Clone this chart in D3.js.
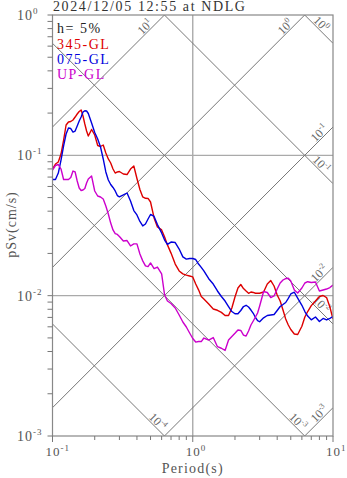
<!DOCTYPE html>
<html><head><meta charset="utf-8">
<script src="https://cdn.jsdelivr.net/npm/d3@7"></script>
<style>
html,body{margin:0;padding:0;background:#fff;}
svg{display:block;font-family:"Liberation Serif","Times New Roman",serif;}
</style></head><body>
<svg id="chart" width="347" height="478"></svg>
<script>
// Pseudo-velocity response spectra, 5% damping
const periods = [0.100,0.105,0.110,0.115,0.120,0.125,0.130,0.135,0.140,0.145,0.150,0.155,0.160,0.165,0.170,0.175,0.180,0.19,0.20,0.21,0.22,0.23,0.24,0.25,0.26,0.27,0.28,0.29,0.30,0.32,0.34,0.36,0.38,0.40,0.42,0.44,0.46,0.48,0.50,0.53,0.56,0.60,0.63,0.66,0.70,0.75,0.80,0.85,0.90,0.95,1.00,1.05,1.10,1.15,1.20,1.30,1.40,1.50,1.60,1.70,1.80,1.90,2.00,2.10,2.20,2.30,2.40,2.50,2.60,2.70,2.80,2.90,3.00,3.20,3.40,3.60,3.80,4.00,4.20,4.40,4.60,4.80,5.00,5.30,5.60,6.00,6.30,6.60,7.00,7.50,8.00,8.50,9.00,9.50,10.0];

const sv345 = [0.0799,0.0867,0.0896,0.1022,0.1286,0.1645,0.1728,0.1743,0.1786,0.1875,0.1970,0.2053,0.2104,0.1906,0.1672,0.1490,0.1373,0.1528,0.1396,0.1175,0.1156,0.1185,0.1039,0.0942,0.0882,0.0799,0.0748,0.0761,0.0767,0.0736,0.0730,0.0799,0.0839,0.0684,0.0571,0.0505,0.0494,0.0493,0.0465,0.0358,0.0309,0.0294,0.0262,0.0230,0.0201,0.0168,0.0150,0.0143,0.0140,0.0138,0.0136,0.0121,0.0110,0.00986,0.00947,0.00872,0.00804,0.00787,0.00760,0.00722,0.00722,0.00817,0.00978,0.01134,0.01201,0.01124,0.01079,0.01040,0.01062,0.01054,0.01040,0.01040,0.01040,0.01062,0.01211,0.01282,0.01172,0.01011,0.00916,0.00790,0.00682,0.00618,0.00574,0.00533,0.00529,0.00605,0.00705,0.00771,0.00849,0.00916,0.00986,0.01003,0.00970,0.00830,0.00682];

const sv075 = [0.0673,0.0673,0.0748,0.0926,0.1166,0.1419,0.1566,0.1553,0.1466,0.1490,0.1618,0.1757,0.1875,0.2036,0.2080,0.2070,0.1986,0.1700,0.1454,0.1307,0.1147,0.0942,0.0761,0.0667,0.0620,0.0590,0.0557,0.0517,0.0506,0.0522,0.0539,0.0473,0.0404,0.0376,0.0338,0.0314,0.0324,0.0352,0.0379,0.0367,0.0321,0.0280,0.0249,0.0232,0.0241,0.0239,0.0215,0.0189,0.0182,0.0184,0.0184,0.0181,0.0168,0.0159,0.0150,0.0132,0.0121,0.0108,0.00986,0.00916,0.00837,0.00771,0.00743,0.00743,0.00784,0.00837,0.00854,0.00830,0.00790,0.00749,0.00699,0.00665,0.00652,0.00695,0.00722,0.00728,0.00734,0.00784,0.00837,0.00865,0.00894,0.00958,0.01028,0.01058,0.00962,0.00854,0.00771,0.00716,0.00673,0.00705,0.00655,0.00688,0.00671,0.00690,0.00710];

const svUP = [0.0786,0.0846,0.0860,0.0799,0.0673,0.0673,0.0673,0.0695,0.0773,0.0761,0.0656,0.0585,0.0562,0.0566,0.0580,0.0635,0.0678,0.0712,0.0557,0.0513,0.0505,0.0488,0.0435,0.0382,0.0329,0.0294,0.0277,0.0273,0.0264,0.0245,0.0247,0.0226,0.0234,0.0234,0.0198,0.0177,0.0163,0.0161,0.0171,0.0156,0.0160,0.0143,0.0101,0.00916,0.00879,0.00817,0.00728,0.00649,0.00598,0.00542,0.00495,0.00467,0.00471,0.00471,0.00499,0.00483,0.00503,0.00433,0.00422,0.00407,0.00483,0.00512,0.00539,0.00569,0.00565,0.00524,0.00516,0.00560,0.00618,0.00660,0.00705,0.00752,0.00844,0.01070,0.01053,0.00970,0.00995,0.01115,0.01231,0.01293,0.01325,0.01330,0.01272,0.01097,0.01045,0.01134,0.01231,0.01257,0.01241,0.01251,0.01079,0.01097,0.01115,0.01143,0.01191];

const seriesNames = ["345-GL", "075-GL", "UP-GL"];
const seriesColors = ["#dd0000", "#0000dd", "#cc00cc"];
const dispLevels = [1e-4, 1e-3, 1e-2, 1e-1, 1];   // displacement, cm
const accLevels = [1e-3, 1e-2, 1e-1, 1, 10];     // acceleration, cm/s^2
const xTickExps = [-1, 0, 1];
const yTickExps = [0, -1, -2, -3];
const titleText = "2024/12/05 12:55 at NDLG";
const dampingText = "h= 5%";
const xLabel = "Period(s)";
const yLabel = "pSv(cm/s)";

const L = 52.5, R = 333, TOP = 15, BOT = 436;
const svg = d3.select("#chart");
const x = d3.scaleLog().domain([0.1, 10]).range([L, R]);
const y = d3.scaleLog().domain([0.001, 1]).range([BOT, TOP]);

svg.append("defs").append("clipPath").attr("id", "plotClip")
  .append("rect").attr("x", L).attr("y", TOP).attr("width", R - L).attr("height", BOT - TOP);

// grid lines at decades
const grid = svg.append("g").attr("stroke", "#aaa").attr("stroke-width", 1.4);
grid.append("line").attr("x1", x(1)).attr("x2", x(1)).attr("y1", TOP).attr("y2", BOT);
[0.1, 0.01].forEach(v => grid.append("line").attr("x1", L).attr("x2", R).attr("y1", y(v)).attr("y2", y(v)));

// tripartite lines
const trip = svg.append("g").attr("clip-path", "url(#plotClip)")
  .attr("fill", "none").attr("stroke", "#777").attr("stroke-width", 1);
const tp = d3.line().x(d => x(d[0])).y(d => y(d[1]));
const Tends = [0.1, 10];
dispLevels.forEach(D => trip.append("path").attr("d", tp(Tends.map(t => [t, 2 * Math.PI * D / t]))));
accLevels.forEach(A => trip.append("path").attr("d", tp(Tends.map(t => [t, A * t / (2 * Math.PI)]))));

function powLabel(g, exp, size, supSize, supDy) {
  const t = g.append("text");
  t.append("tspan").text("10");
  t.append("tspan").attr("font-size", supSize).attr("dy", supDy).text(String(exp));
  t.attr("font-size", size);
  return t;
}

// tripartite labels
const s = Math.SQRT1_2, perp = 5.5;
const tl = svg.append("g").attr("fill", "#666");
dispLevels.forEach(D => {
  const svR = 2 * Math.PI * D / 10;
  let ex, ey, along;
  if (svR >= 0.001) { ex = x(10); ey = y(svR); along = 22; }
  else { ex = x(2 * Math.PI * D / 0.001); ey = y(0.001); along = 15; }
  const cx = ex - along * s + perp * s, cy = ey - along * s - perp * s;
  const g = tl.append("g").attr("transform", `translate(${cx},${cy}) rotate(45)`);
  powLabel(g, Math.round(Math.log10(D)), 12, 8, -5).attr("text-anchor", "middle").attr("y", 4);
});
accLevels.forEach(A => {
  const svR = A * 10 / (2 * Math.PI);
  let ex, ey, along;
  if (svR <= 1) { ex = x(10); ey = y(svR); along = 14; }
  else { ex = x(2 * Math.PI / A); ey = y(1); along = 22; }
  const cx = ex - along * s - perp * s, cy = ey + along * s - perp * s;
  const g = tl.append("g").attr("transform", `translate(${cx},${cy}) rotate(-45)`);
  powLabel(g, Math.round(Math.log10(A)), 12, 8, -5).attr("text-anchor", "middle").attr("y", 4);
});

// spectra
const series = [sv345, sv075, svUP];
const line = d3.line().x((d, i) => x(periods[i])).y(d => y(d));
const curves = svg.append("g").attr("clip-path", "url(#plotClip)").attr("fill", "none")
  .attr("stroke-width", 1.4).attr("stroke-linejoin", "round");
series.forEach((vals, k) => curves.append("path").attr("stroke", seriesColors[k]).attr("d", line(vals)));

// frame
svg.append("rect").attr("x", L).attr("y", TOP).attr("width", R - L).attr("height", BOT - TOP)
  .attr("fill", "none").attr("stroke", "#888").attr("stroke-width", 1.2);

// ticks
const ticks = svg.append("g").attr("stroke", "#777").attr("stroke-width", 1);
y.ticks().forEach(v => {
  ticks.append("line").attr("x1", L - 5).attr("x2", L).attr("y1", y(v)).attr("y2", y(v));
});
x.ticks().forEach(v => {
  const major = Math.abs(Math.log10(v) - Math.round(Math.log10(v))) < 1e-9;
  ticks.append("line").attr("x1", x(v)).attr("x2", x(v)).attr("y1", BOT).attr("y2", BOT + (major ? 6 : 4));
});

// tick labels
const lab = svg.append("g").attr("fill", "#555").attr("letter-spacing", 1);
yTickExps.forEach(e => {
  powLabel(lab, e, 14, 9, -6).attr("x", 17).attr("y", y(Math.pow(10, e)) + 5);
});
xTickExps.forEach(e => {
  powLabel(lab, e, 13, 9, -5).attr("x", x(Math.pow(10, e)) - 7).attr("y", 456);
});

// axis titles
svg.append("text").attr("x", (L + R) / 2).attr("y", 473).attr("text-anchor", "middle")
  .attr("font-size", 14).attr("letter-spacing", 1.2).attr("fill", "#555").text(xLabel);
svg.append("text").attr("transform", `translate(16,${(TOP + BOT) / 2 - 1}) rotate(-90)`)
  .attr("text-anchor", "middle").attr("font-size", 14).attr("letter-spacing", 1)
  .attr("fill", "#555").text(yLabel);

// title
svg.append("text").attr("x", 53).attr("y", 11).attr("font-size", 14).attr("letter-spacing", 1.6)
  .attr("fill", "#333").text(titleText);

// legend
const leg = svg.append("g").attr("font-size", 14).attr("letter-spacing", 1.5);
leg.append("text").attr("x", 57).attr("y", 33).attr("fill", "#222").text(dampingText);
seriesNames.forEach((n, k) => leg.append("text").attr("x", 57).attr("y", 48.5 + k * 15)
  .attr("fill", seriesColors[k]).text(n));
</script>
</body></html>
